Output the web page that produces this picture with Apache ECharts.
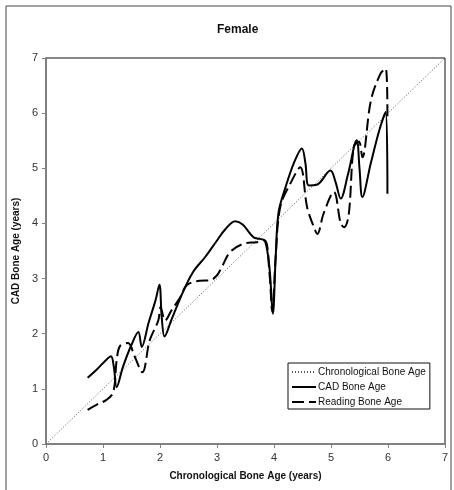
<!DOCTYPE html>
<html>
<head>
<meta charset="utf-8">
<script src="https://cdn.jsdelivr.net/npm/echarts@6/dist/echarts.min.js"></script>
<style>
html,body{margin:0;padding:0;background:#fff;}
#chart{width:454px;height:490px;}
</style>
</head>
<body>
<div id="chart"></div>
<script>
var titleText = 'Female';
var xAxisName = 'Chronological Bone Age (years)';
var yAxisName = 'CAD Bone Age (years)';
var seriesNames = ['Chronological Bone Age', 'CAD Bone Age', 'Reading Bone Age'];

var chronoX = [0, 7];
var chronoY = [0, 7];

var cadX = [0.73,0.90,1.05,1.14,1.19,1.24,1.35,1.50,1.62,1.68,1.80,1.92,1.99,2.03,2.08,2.20,2.40,2.58,2.80,3.00,3.15,3.32,3.45,3.64,3.75,3.84,3.92,3.98,4.03,4.08,4.20,4.35,4.49,4.55,4.61,4.75,4.99,5.08,5.17,5.30,5.45,5.50,5.55,5.70,5.85,5.96,5.99];
var cadY = [1.20,1.36,1.52,1.59,1.40,1.03,1.40,1.80,2.03,1.76,2.20,2.60,2.89,2.30,1.95,2.25,2.75,3.12,3.40,3.69,3.90,4.04,3.98,3.75,3.72,3.69,3.20,2.36,3.40,4.20,4.65,5.10,5.36,5.10,4.69,4.70,4.96,4.75,4.45,4.90,5.51,5.00,4.48,5.10,5.70,6.02,4.54];

var readX = [0.73,0.90,1.06,1.18,1.24,1.30,1.44,1.55,1.69,1.82,1.97,2.01,2.09,2.20,2.35,2.47,2.70,2.88,3.00,3.08,3.23,3.46,3.70,3.84,3.92,3.97,4.03,4.11,4.30,4.46,4.58,4.70,4.76,4.87,5.05,5.17,5.23,5.31,5.40,5.49,5.55,5.70,5.87,5.96,5.99];
var readY = [0.62,0.72,0.80,0.94,1.52,1.78,1.83,1.60,1.30,1.88,2.24,2.48,2.24,2.42,2.65,2.88,2.96,2.97,3.06,3.20,3.48,3.63,3.66,3.69,3.10,2.40,3.40,4.30,4.75,5.02,4.30,3.93,3.81,4.18,4.57,4.00,3.93,4.15,5.39,5.48,5.20,6.23,6.72,6.81,5.93];

var tickValues = [0,1,2,3,4,5,6,7];

function zip(xs, ys){ return xs.map(function(x,i){ return [x, ys[i]]; }); }

var chart = echarts.init(document.getElementById('chart'), null, {renderer:'canvas'});
var FONT = '"Liberation Sans", Arial, sans-serif';
var axisCommon = {
  type: 'value',
  min: tickValues[0],
  max: tickValues[tickValues.length-1],
  interval: 1,
  splitLine: {show:false},
  axisLine: {show:true, lineStyle:{color:'#808080', width:2}},
  axisTick: {show:true, length:4, lineStyle:{color:'#808080', width:1}},
  nameLocation: 'middle',
  nameTextStyle: {color:'#111', fontFamily:FONT, fontSize:10, fontWeight:'bold'}
};
var option = {
  animation: false,
  backgroundColor: '#fff',
  title: {
    text: titleText, left: 212, top: 19,
    textStyle: {fontFamily:FONT, fontSize:12, fontWeight:'bold', color:'#111'}
  },
  grid: {left:46, top:58, right:9, bottom:46, show:true, borderColor:'#111', borderWidth:1, backgroundColor:'#fff'},
  xAxis: Object.assign({}, axisCommon, {name:xAxisName, nameGap:27, axisLabel:{color:'#333', fontFamily:FONT, fontSize:11, margin:8}}),
  yAxis: Object.assign({}, axisCommon, {name:yAxisName, nameGap:19, axisLabel:{color:'#333', fontFamily:FONT, fontSize:11, margin:8}}),
  legend: {
    orient:'vertical', left:288, top:363,
    backgroundColor:'#fff', borderColor:'#111', borderWidth:1,
    padding:[4,4,2,3], itemGap:5, itemWidth:24, itemHeight:10,
    itemStyle:{opacity:0},
    textStyle:{fontFamily:FONT, fontSize:10, color:'#111', padding:[0,0,0,-3]},
    data: seriesNames
  },
  graphic: [{
    type:'rect', silent:true, z:-10,
    shape:{x:6,y:6,width:445,height:500},
    style:{fill:'none', stroke:'#444', lineWidth:1}
  }],
  series: [
    {name:seriesNames[0], type:'line', data:zip(chronoX, chronoY), symbol:'none',
     lineStyle:{color:'#555', width:1, type:[1,2]}, itemStyle:{color:'#555'}},
    {name:seriesNames[1], type:'line', data:zip(cadX, cadY), symbol:'none', smooth:0.35,
     lineStyle:{color:'#000', width:2}, itemStyle:{color:'#000'}},
    {name:seriesNames[2], type:'line', data:zip(readX, readY), symbol:'none', smooth:0.35,
     lineStyle:{color:'#000', width:2, type:[12,5]}, itemStyle:{color:'#000'}}
  ]
};
chart.setOption(option);
</script>
</body>
</html>
